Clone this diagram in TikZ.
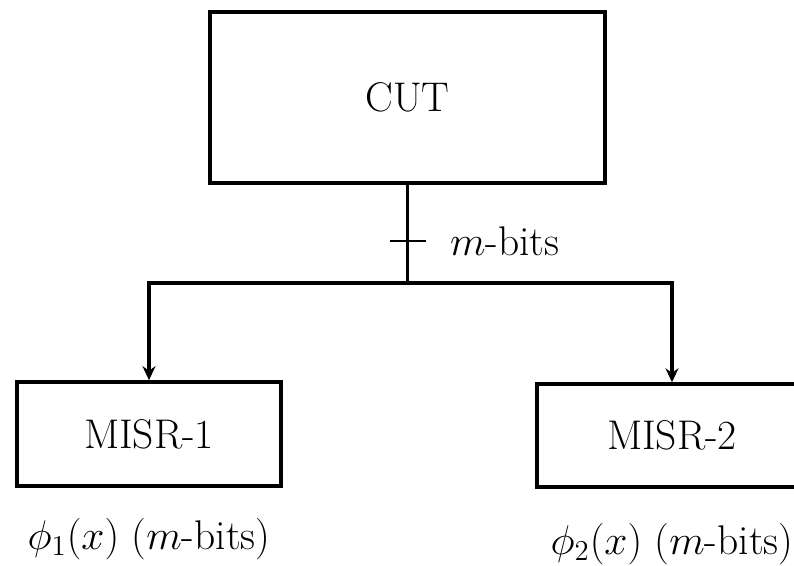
\documentclass[tikz,border=0pt]{standalone}
\usepackage{amsmath,amssymb}
\usepackage{tikz}
\usetikzlibrary{arrows.meta,positioning,calc}
\tikzset{
  tbblock/.style={
    rectangle, draw=black, fill=white, line width=1.8pt,
    inner sep=2pt, font=\huge
  },
  tbedge/.style={->,>={Stealth[length=7pt,width=6.5pt]},line width=1.6pt},
  tbline/.style={line width=1.6pt},
  tbtick/.style={line width=1.1pt},
  tblabel/.style={font=\huge,inner sep=1pt}
}

\begin{document}
\begin{tikzpicture}[x=20pt,y=20pt]
  \clip (0,0) rectangle (19.85,14.15);

  % circuit under test
  \node[tbblock,minimum width=197.5pt,minimum height=85.5pt] (cut) at (10.19,11.71) {CUT};

  % signature registers
  \node[tbblock,minimum width=132pt,minimum height=52pt] (misr1) at (3.725,3.3) {MISR-1};
  \node[tbblock,minimum width=135pt,minimum height=51.5pt] (misr2) at (16.8,3.26) {MISR-2};

  \node[tblabel,below=14pt of misr1] (sig1) {$\phi_1(x)$ ($m$-bits)};
  \node[tblabel,below=16pt of misr2] (sig2) {$\phi_2(x)$ ($m$-bits)};

  % m-bit bus
  \coordinate (bus) at (cut.south |- 0,7.075);
  \coordinate (tick) at ($(cut.south)!0.57!(bus)$);
  \draw[tbline] (cut.south) -- (bus);
  \draw[tbtick] (tick) ++(-0.45,0) -- ++(0.9,0);
  \node[tblabel,anchor=west] (width) at ($(tick)+(1.0,0)$) {$m$-bits};
  \draw[tbedge] (bus) -| (misr1.north);
  \draw[tbedge] (bus) -| (misr2.north);
\end{tikzpicture}
\end{document}
